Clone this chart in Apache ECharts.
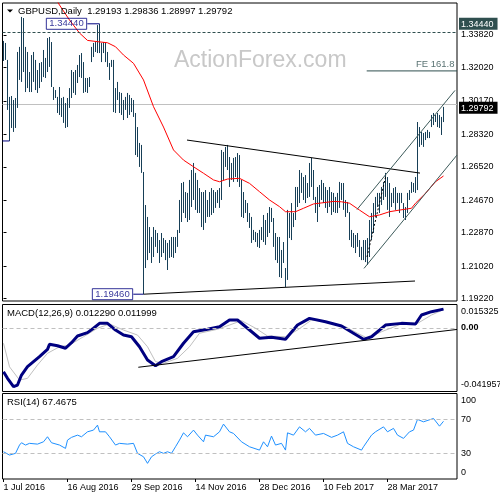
<!DOCTYPE html>
<html>
<head>
<meta charset="utf-8">
<script src="https://cdn.jsdelivr.net/npm/echarts@6/dist/echarts.min.js"></script>
<style>
  html, body { margin: 0; padding: 0; background: #fff; }
  #chart { width: 500px; height: 500px; }
</style>
</head>
<body>
<div id="chart"></div>
<script>
// ---- data (one bar per trading day, index 0 = 1 Jul 2016) ----
const highs = [
  1.3349,1.3338,1.3244,1.3039,1.3044,1.3022,1.3033,1.3288,1.3316,1.3482,
  1.3476,1.3316,1.3288,1.3177,1.3271,1.3288,1.3244,1.3188,1.3227,1.3232,
  1.3299,1.3255,1.3365,1.3371,1.3343,1.3094,1.3077,1.3039,1.3094,1.3033,
  1.3039,1.3005,1.3033,1.3088,1.3188,1.3177,1.3188,1.3216,1.3271,1.3282,
  1.3232,1.3144,1.3144,1.3149,1.3316,1.3338,1.3343,1.3437,1.3444,1.3338,
  1.3343,1.3338,1.3288,1.3227,1.3244,1.3244,1.3088,1.3122,1.3066,1.3061,
  1.3022,1.3039,1.3061,1.3050,1.3033,1.3022,1.2950,1.2872,1.2784,1.2773,
  1.2623,1.2440,1.2374,1.2318,1.2263,1.2318,1.2302,1.2285,1.2246,1.2285,
  1.2257,1.2246,1.2230,1.2246,1.2263,1.2263,1.2263,1.2302,1.2468,1.2562,
  1.2568,1.2512,1.2507,1.2579,1.2634,1.2673,1.2618,1.2579,1.2534,1.2512,
  1.2512,1.2523,1.2468,1.2512,1.2534,1.2523,1.2512,1.2523,1.2534,1.2745,
  1.2734,1.2762,1.2773,1.2706,1.2673,1.2701,1.2706,1.2728,1.2717,1.2579,
  1.2512,1.2468,1.2451,1.2396,1.2374,1.2302,1.2291,1.2285,1.2302,1.2318,
  1.2385,1.2357,1.2396,1.2429,1.2424,1.2368,1.2285,1.2263,1.2263,1.2191,
  1.2235,1.2091,1.2413,1.2396,1.2451,1.2396,1.2540,1.2540,1.2634,1.2618,
  1.2595,1.2606,1.2562,1.2673,1.2701,1.2634,1.2485,1.2540,1.2551,1.2579,
  1.2562,1.2540,1.2523,1.2540,1.2512,1.2507,1.2485,1.2507,1.2568,1.2562,
  1.2562,1.2468,1.2457,1.2401,1.2302,1.2285,1.2274,1.2285,1.2246,1.2208,
  1.2246,1.2246,1.2257,1.2357,1.2396,1.2451,1.2485,1.2507,1.2507,1.2540,
  1.2568,1.2618,1.2595,1.2562,1.2507,1.2534,1.2540,1.2507,1.2507,1.2507,
  1.2451,1.2429,1.2507,1.2523,1.2568,1.2562,1.2595,1.2900,1.2872,1.2845,
  1.2839,1.2845,1.2856,1.2845,1.2939,1.2950,1.2939,1.2950,1.2939,1.2928,
  1.29836
];
const lows = [
  1.3238,1.3244,1.2967,1.2795,1.2867,1.2845,1.2867,1.2978,1.3133,1.3122,
  1.3177,1.3066,1.3088,1.3066,1.3066,1.3122,1.3077,1.3061,1.3088,1.3122,
  1.3149,1.3144,1.3177,1.3205,1.3094,1.3022,1.3033,1.2950,1.2939,1.2928,
  1.2895,1.2867,1.2872,1.2978,1.3033,1.3061,1.3050,1.3116,1.3149,1.3144,
  1.3061,1.3066,1.3061,1.3094,1.3232,1.3260,1.3288,1.3282,1.3282,1.3232,
  1.3282,1.3232,1.3205,1.3133,1.3205,1.2955,1.2950,1.3022,1.2950,1.2939,
  1.2911,1.2967,1.2922,1.2939,1.2955,1.2928,1.2717,1.2706,1.2651,1.2618,
  1.1946,1.2091,1.2135,1.2174,1.2119,1.2152,1.2208,1.2174,1.2119,1.2152,
  1.2174,1.2135,1.2080,1.2147,1.2152,1.2147,1.2174,1.2208,1.2285,1.2346,
  1.2396,1.2368,1.2346,1.2357,1.2429,1.2468,1.2413,1.2396,1.2396,1.2318,
  1.2302,1.2341,1.2374,1.2374,1.2385,1.2396,1.2424,1.2451,1.2424,1.2468,
  1.2579,1.2651,1.2634,1.2540,1.2579,1.2568,1.2595,1.2568,1.2540,1.2374,
  1.2368,1.2396,1.2346,1.2313,1.2230,1.2246,1.2235,1.2208,1.2202,1.2246,
  1.2235,1.2219,1.2263,1.2285,1.2346,1.2208,1.2135,1.2119,1.2041,1.2036,
  1.2119,1.1986,1.2025,1.2257,1.2246,1.2318,1.2357,1.2429,1.2451,1.2507,
  1.2468,1.2451,1.2479,1.2485,1.2540,1.2468,1.2396,1.2346,1.2429,1.2468,
  1.2451,1.2424,1.2396,1.2429,1.2385,1.2401,1.2396,1.2396,1.2424,1.2468,
  1.2413,1.2374,1.2396,1.2246,1.2208,1.2202,1.2174,1.2208,1.2152,1.2135,
  1.2135,1.2124,1.2108,1.2152,1.2246,1.2285,1.2374,1.2429,1.2396,1.2440,
  1.2468,1.2485,1.2413,1.2374,1.2429,1.2451,1.2413,1.2451,1.2396,1.2451,
  1.2368,1.2357,1.2396,1.2468,1.2507,1.2512,1.2507,1.2523,1.2762,1.2773,
  1.2762,1.2800,1.2811,1.2811,1.2872,1.2883,1.2900,1.2872,1.2867,1.2828,
  1.28997
];
const lastOHLC = [1.29193, 1.29836, 1.28997, 1.29792];

// red moving average, [bar index, price]
const maLine = [
  [26,1.3585],[28,1.3548],[33,1.3465],[38,1.3393],[42,1.3352],[47,1.3345],[52,1.3339],
  [56,1.3317],[60,1.3271],[65,1.3225],[70,1.3133],[75,1.2985],[80,1.2872],[85,1.2745],
  [90,1.2689],[95,1.2652],[100,1.2616],[105,1.2579],[108,1.2569],[112,1.2584],[118,1.2588],
  [123,1.2560],[128,1.2514],[133,1.2468],[138,1.2431],[141,1.2403],[146,1.2403],[150,1.2422],
  [155,1.2446],[160,1.2453],[165,1.2460],[169,1.2458],[173,1.2450],[178,1.2412],[183,1.2375],
  [188,1.2385],[193,1.2403],[198,1.2412],[204,1.2422],[206,1.2450],[211,1.2505],[216,1.2569],
  [220,1.2601]
];

// MACD(12,26,9): main and signal, [bar index, value]
const macdMain = [
  [0,-0.0289],[2,-0.0333],[5,-0.0388],[7,-0.0377],[9,-0.0311],[12,-0.0256],[15,-0.0223],
  [18,-0.0190],[22,-0.0142],[23,-0.0109],[27,-0.0118],[31,-0.0135],[34,-0.0098],[37,-0.0054],
  [42,-0.0032],[45,-0.0003],[48,0.0029],[52,0.0029],[56,-0.0015],[60,-0.0048],[64,-0.0059],
  [68,-0.0125],[72,-0.0212],[76,-0.0250],[79,-0.0223],[85,-0.0190],[90,-0.0102],[95,-0.0026],
  [102,-0.0010],[108,0.0007],[113,0.0051],[117,0.0051],[122,-0.0003],[128,-0.0069],
  [134,-0.0063],[141,-0.0076],[147,0.0018],[153,0.0062],[161,0.0040],[169,0.0012],
  [175,-0.0036],[180,-0.0076],[184,-0.0059],[191,0.0018],[199,0.0029],[206,0.0025],
  [209,0.0084],[214,0.0106],[220,0.0123]
];
const macdSignal = [
  [0,-0.0102],[3,-0.0257],[8,-0.0344],[12,-0.0333],[17,-0.0245],[22,-0.0168],[28,-0.0125],
  [33,-0.0113],[40,-0.0059],[47,-0.0003],[53,0.0025],[60,-0.0015],[67,-0.0048],[72,-0.0125],
  [76,-0.0223],[80,-0.0234],[87,-0.0201],[93,-0.0125],[98,-0.0036],[107,-0.0010],[113,0.0018],
  [119,0.0047],[126,-0.0003],[132,-0.0054],[141,-0.0059],[147,-0.0015],[154,0.0051],
  [162,0.0040],[171,0.0007],[177,-0.0036],[182,-0.0069],[189,-0.0026],[199,0.0025],
  [207,0.0029],[214,0.0084],[220,0.0120]
];
const macdLast = [0.012290, 0.011999];

// RSI(14), [bar index, value]
const rsiLine = [
  [0,31.9],[3,28.0],[6,30.0],[8,39.7],[9,42.4],[11,39.7],[13,41.7],[17,40.8],[20,43.5],
  [22,49.4],[24,42.4],[28,39.7],[31,35.8],[32,45.5],[34,48.7],[37,51.3],[39,49.4],[42,55.2],
  [45,57.2],[47,63.0],[48,55.2],[51,55.2],[53,49.4],[56,39.7],[58,41.7],[62,40.8],[65,41.7],
  [67,30.0],[70,26.0],[72,18.3],[74,26.0],[76,29.2],[78,31.9],[80,30.0],[82,31.9],[84,30.0],
  [86,37.7],[88,45.5],[90,54.0],[92,49.4],[95,57.2],[97,51.3],[100,43.5],[101,51.3],[105,49.4],
  [108,55.2],[110,64.2],[113,55.2],[115,53.3],[119,43.5],[123,37.7],[128,33.8],[130,43.5],
  [132,37.7],[134,50.2],[136,39.7],[139,41.7],[141,33.8],[142,54.0],[145,51.3],[148,61.0],
  [151,55.2],[153,59.2],[156,51.3],[160,53.3],[164,48.7],[167,51.3],[170,55.2],[172,41.7],
  [175,37.7],[179,33.8],[180,37.7],[184,51.3],[186,55.2],[190,61.0],[192,55.2],[195,59.2],
  [197,51.3],[200,47.5],[203,55.2],[205,57.2],[207,69.7],[210,66.9],[215,70.8],[218,61.8],
  [220,67.5]
];
const rsiLast = 67.4675;

// drawn objects (trend lines, levels, price boxes), in [bar index, price]
const triUpper = [[91.75,1.2800],[208.25,1.2617]];
const triLower = [[70,1.1946],[205.75,1.2019]];
const chanUpper = [[176.75,1.2415],[225.75,1.3075]];
const chanLower = [[180.25,1.2089],[226.75,1.2717]];
const innerDash = [[181.75,1.2152],[191.25,1.2606]];
const feLevel = [[181.6,1.3183],[226.75,1.3183]];
const macdTrend = [[67.4,-0.0260],[226.75,-0.0011]];
const boxes = [[31.5,1.3444],[54.5,1.1946]];
const boxLinks = [[[41.9,1.3444],[48,1.3444]], [[64.9,1.1946],[70,1.1946]], [[-0.5,1.2795],[3,1.2795]]];
const highLevel = 1.3444;
const bidLevel = 1.29792;

// axis ticks
const priceTicks = [1.19220,1.21020,1.22870,1.24670,1.26520,1.28320,1.30170,1.32020,1.33820];
const macdRange = [-0.041957, 0.015325];
const rsiTicks = [30, 70];
const dateIdx = [0, 32, 64, 96, 128, 160, 192];
const dateLabels = ['1 Jul 2016','16 Aug 2016','29 Sep 2016','14 Nov 2016','28 Dec 2016','10 Feb 2017','28 Mar 2017'];

const FONT = 'Liberation Sans';
const BAR = '#173f57';
const SLATE = '#2f4f4f';
const NAVY = '#000080';
const X_MIN = -0.5, X_MAX = 226.75;

// rich styles that push the top label down and the bottom label up, as MT4 does
const edgeRich = {
  t: { fontFamily: FONT, fontSize: 9, color: '#000', padding: [14, 0, 0, 0] },
  b: { fontFamily: FONT, fontSize: 9, color: '#000', padding: [0, 0, 13, 0] },
  m: { fontFamily: FONT, fontSize: 9, color: '#000' },
  z: { fontFamily: FONT, fontSize: 9, color: '#000', fontWeight: 'bold' }
};

function sideAxis(grid, min, max, labelValues, tickValues, fmt, label, z) {
  return {
    type: 'value', gridIndex: grid, position: 'right', min: min, max: max, z: z || 0,
    axisLine: { show: false }, splitLine: { show: false },
    axisTick: { show: tickValues.length > 0, customValues: tickValues, length: 3, lineStyle: { color: '#000' } },
    axisLabel: Object.assign({
      customValues: labelValues, formatter: fmt, fontFamily: FONT, fontSize: 9, color: '#000', margin: 4,
      rich: edgeRich, hideOverlap: false
    }, label || {})
  };
}

function xAxisFor(grid, withLabels) {
  return {
    type: 'value', gridIndex: grid, min: X_MIN, max: X_MAX, show: withLabels,
    axisLine: { show: false, onZero: false }, splitLine: { show: false },
    axisTick: { show: withLabels, customValues: dateIdx, length: 3, lineStyle: { color: '#000' } },
    axisLabel: {
      show: withLabels, customValues: dateIdx, align: 'left', margin: 4,
      fontFamily: FONT, fontSize: 9, color: '#000',
      formatter: v => dateLabels[dateIdx.indexOf(Math.round(v))] || ''
    }
  };
}

function segment(data, xi, yi, color, type, width, z) {
  return {
    type: 'line', xAxisIndex: xi, yAxisIndex: yi, data: data, symbol: 'none', silent: true,
    lineStyle: { color: color, width: width || 1, type: type || 'solid' }, z: z || 4
  };
}

const flatLine = (color, type) => ({
  silent: true, symbol: ['none', 'none'], label: { show: false },
  lineStyle: { color: color, width: 1, type: type }, emphasis: { disabled: true }
});

const gridBase = { left: 2.5, right: 43, show: true, borderColor: '#000', borderWidth: 1,
                   containLabel: false, outerBoundsMode: 'none' };

const chart = echarts.init(document.getElementById('chart'));
const txt = { fontFamily: FONT, fontSize: 9.5, fontWeight: 'normal', color: '#000' };

chart.setOption({
  animation: false,
  backgroundColor: '#fff',
  title: [
    { text: 'GBPUSD,Daily  ' + lastOHLC.map(v => v.toFixed(5)).join(' '), left: 18, top: 6, padding: 0, textStyle: txt },
    { text: 'MACD(12,26,9) ' + macdLast.map(v => v.toFixed(6)).join(' '), left: 7, top: 308, padding: 0, textStyle: txt },
    { text: 'RSI(14) ' + rsiLast.toFixed(4), left: 7, top: 397, padding: 0, textStyle: txt },
    { text: 'ActionForex.com', left: 174, top: 49, padding: 0,
      textStyle: { fontFamily: FONT, fontSize: 23, fontWeight: 'normal', color: '#c8c8c8' } }
  ],
  graphic: [
    { type: 'polygon', shape: { points: [[7, 9.5], [13, 9.5], [10, 12.5]] }, style: { fill: '#000' } }
  ],
  grid: [
    Object.assign({ top: 3, height: 298 }, gridBase),
    Object.assign({ top: 304.5, height: 87 }, gridBase),
    Object.assign({ top: 393.5, height: 85.5 }, gridBase)
  ],
  xAxis: [xAxisFor(0, false), xAxisFor(1, false), xAxisFor(2, true)],
  yAxis: [
    sideAxis(0, 1.19083, 1.35593, priceTicks, priceTicks, v => v.toFixed(5)),
    sideAxis(0, 1.19083, 1.35593, [highLevel], [], v => v.toFixed(5),
      { backgroundColor: SLATE, color: '#fff', padding: [2, 4, 1, 2], margin: 2 }, 5),
    sideAxis(0, 1.19083, 1.35593, [bidLevel], [], v => v.toFixed(5),
      { backgroundColor: '#000', color: '#fff', padding: [2, 4, 1, 2], margin: 2 }, 6),
    sideAxis(1, macdRange[0], macdRange[1], [macdRange[0], 0, macdRange[1]], [0],
      v => v === 0 ? '{z|0.00}' : (v > 0 ? '{t|' + v.toFixed(6) + '}' : '{b|' + v.toFixed(6) + '}')),
    sideAxis(2, 0, 100, [0, rsiTicks[0], rsiTicks[1], 100], rsiTicks,
      v => v === 100 ? '{t|100}' : (v === 0 ? '{b|0}' : '{m|' + v + '}'))
  ],
  series: [
    {
      type: 'custom', name: 'bars', xAxisIndex: 0, yAxisIndex: 0, silent: true, z: 2,
      data: highs.map((h, i) => [i, lows[i], h]),
      encode: { x: 0, y: [1, 2] },
      renderItem: function (params, api) {
        const lo = api.coord([api.value(0), api.value(1)]);
        const hi = api.coord([api.value(0), api.value(2)]);
        const x = Math.round(lo[0] - 0.5) + 0.5;
        return { type: 'line', shape: { x1: x, y1: lo[1], x2: x, y2: hi[1] },
                 style: { stroke: BAR, lineWidth: 1 } };
      }
    },
    Object.assign(segment(maLine, 0, 0, '#ff0000', 'solid', 1, 3), {
      markLine: Object.assign(flatLine('#c0c0c0', 'solid'), { data: [{ yAxis: bidLevel }], z: 1 })
    }),
    Object.assign(segment(feLevel, 0, 0, SLATE), {
      markLine: Object.assign(flatLine(SLATE, [3, 2]), { data: [{ yAxis: highLevel }] })
    }),
    segment(triUpper, 0, 0, '#000'),
    segment(triLower, 0, 0, '#000'),
    segment(chanUpper, 0, 0, '#3c5a5a'),
    segment(chanLower, 0, 0, '#3c5a5a'),
    segment(innerDash, 0, 0, '#000', [2, 2]),
    segment(boxLinks[0], 0, 0, NAVY),
    segment(boxLinks[1], 0, 0, NAVY),
    segment(boxLinks[2], 0, 0, NAVY),
    {
      type: 'scatter', xAxisIndex: 0, yAxisIndex: 0, silent: true, z: 6,
      symbolSize: 1, itemStyle: { color: 'rgba(0,0,0,0)' },
      data: boxes,
      label: { show: true, position: 'inside', formatter: p => p.value[1].toFixed(5),
               fontFamily: FONT, fontSize: 9.5, color: NAVY, borderColor: NAVY, borderWidth: 1,
               padding: [1, 3, 0, 3] }
    },
    {
      type: 'scatter', xAxisIndex: 0, yAxisIndex: 0, silent: true, z: 6,
      symbolSize: 1, itemStyle: { color: 'rgba(0,0,0,0)' },
      data: [feLevel[1]],
      label: { show: true, position: [-2, -1], align: 'right', verticalAlign: 'bottom',
               formatter: 'FE 161.8', fontFamily: FONT, fontSize: 9.5, color: SLATE }
    },
    Object.assign(segment(macdSignal, 1, 3, '#c0c0c0', 'solid', 1, 3), {
      markLine: Object.assign(flatLine('#c0c0c0', [4, 3]), { data: [{ yAxis: 0 }] })
    }),
    segment(macdMain, 1, 3, NAVY, 'solid', 3, 4),
    segment(macdTrend, 1, 3, '#000', 'solid', 1, 5),
    Object.assign(segment(rsiLine, 2, 4, '#1e90ff', 'solid', 1, 4), {
      markLine: Object.assign(flatLine('#c0c0c0', [4, 3]), { data: [{ yAxis: rsiTicks[0] }, { yAxis: rsiTicks[1] }] })
    })
  ]
});
</script>
</body>
</html>
